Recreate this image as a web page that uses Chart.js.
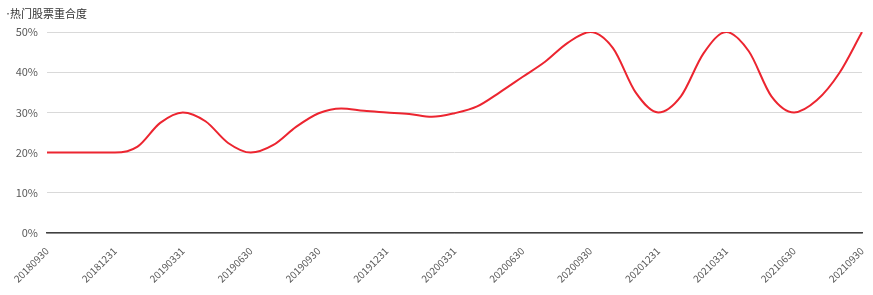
<!DOCTYPE html>
<html>
<head>
<meta charset="utf-8">
<script src="https://cdn.jsdelivr.net/npm/chart.js@4/dist/chart.umd.min.js"></script>
<style>
  html, body { margin: 0; padding: 0; background: #ffffff; }
  #wrap { width: 873px; height: 295px; position: relative; }
</style>
</head>
<body>
<div id="wrap"><canvas id="c" width="873" height="295"></canvas></div>
<script>
// Month-end categories (only every third one, the quarter-ends, is labelled on the axis)
const categories = [
  '20180930','20181031','20181130','20181231','20190131','20190228','20190331',
  '20190430','20190531','20190630','20190731','20190831','20190930','20191031',
  '20191130','20191231','20200131','20200229','20200331','20200430','20200531',
  '20200630','20200731','20200831','20200930','20201031','20201130','20201231',
  '20210131','20210228','20210331','20210430','20210531','20210630','20210731',
  '20210831','20210930'
];
const seriesName = '热门股票重合度';
// values in percent
const overlap = [
  20, 20, 20, 20, 21.5, 27.4, 30,
  27.8, 22.4, 20, 21.9, 26.4, 29.8, 31,
  30.4, 30, 29.6, 28.9, 29.8, 31.5, 35,
  38.8, 42.6, 47.3, 50, 46, 35, 30,
  34, 44.7, 50, 45.2, 34, 30, 33,
  39.8, 50
];
const yTicks = [0, 10, 20, 30, 40, 50];

const FONT = '"Noto Sans CJK SC", "Noto Sans", sans-serif';
const LINE_COLOR = '#ec2530';

// Small legend in the top-left corner (tiny marker followed by the series name)
const cornerLegend = {
  id: 'cornerLegend',
  afterDraw(chart) {
    const ctx = chart.ctx;
    ctx.save();
    ctx.fillStyle = '#8c8c8c';
    ctx.fillRect(7, 13, 2, 1.5);
    ctx.font = '11px ' + FONT;
    ctx.fillStyle = '#333333';
    ctx.textAlign = 'left';
    ctx.textBaseline = 'middle';
    ctx.fillText(chart.data.datasets[0].label, 10, 13.5);
    ctx.restore();
  }
};

new Chart(document.getElementById('c'), {
  type: 'line',
  data: {
    labels: categories,
    datasets: [{
      label: seriesName,
      data: overlap,
      borderColor: LINE_COLOR,
      backgroundColor: LINE_COLOR,
      borderWidth: 2,
      pointRadius: 0,
      pointHoverRadius: 0,
      cubicInterpolationMode: 'monotone',
      fill: false
    }]
  },
  plugins: [cornerLegend],
  options: {
    responsive: false,
    animation: false,
    devicePixelRatio: 1,
    layout: { padding: { left: 0, right: 11, top: 32, bottom: 0 } },
    plugins: {
      tooltip: { enabled: false },
      legend: { display: false }
    },
    scales: {
      x: {
        type: 'category',
        offset: false,
        grid: { display: false, drawTicks: false },
        border: { display: true, color: '#404040', width: 1.5 },
        ticks: {
          autoSkip: false,
          maxRotation: 45,
          minRotation: 45,
          padding: 12,
          color: '#595959',
          font: { family: FONT, size: 10 },
          callback: function (value, index) {
            return index % 3 === 0 ? this.getLabelForValue(value) : '';
          }
        },
        afterFit: (scale) => {
          scale.height = 62;
          scale.paddingLeft = 0;
          scale.paddingRight = 0;
        }
      },
      y: {
        min: 0,
        max: 50,
        afterBuildTicks: (scale) => { scale.ticks = yTicks.map(v => ({ value: v })); },
        grid: { color: '#d9d9d9', lineWidth: 1, drawTicks: false },
        border: { display: false },
        ticks: {
          padding: 9,
          color: '#595959',
          font: { family: FONT, size: 11 },
          callback: (v) => v + '%'
        },
        afterFit: (scale) => {
          scale.width = 47;
          scale.paddingTop = 0;
          scale.paddingBottom = 0;
        }
      }
    }
  }
});
</script>
</body>
</html>
